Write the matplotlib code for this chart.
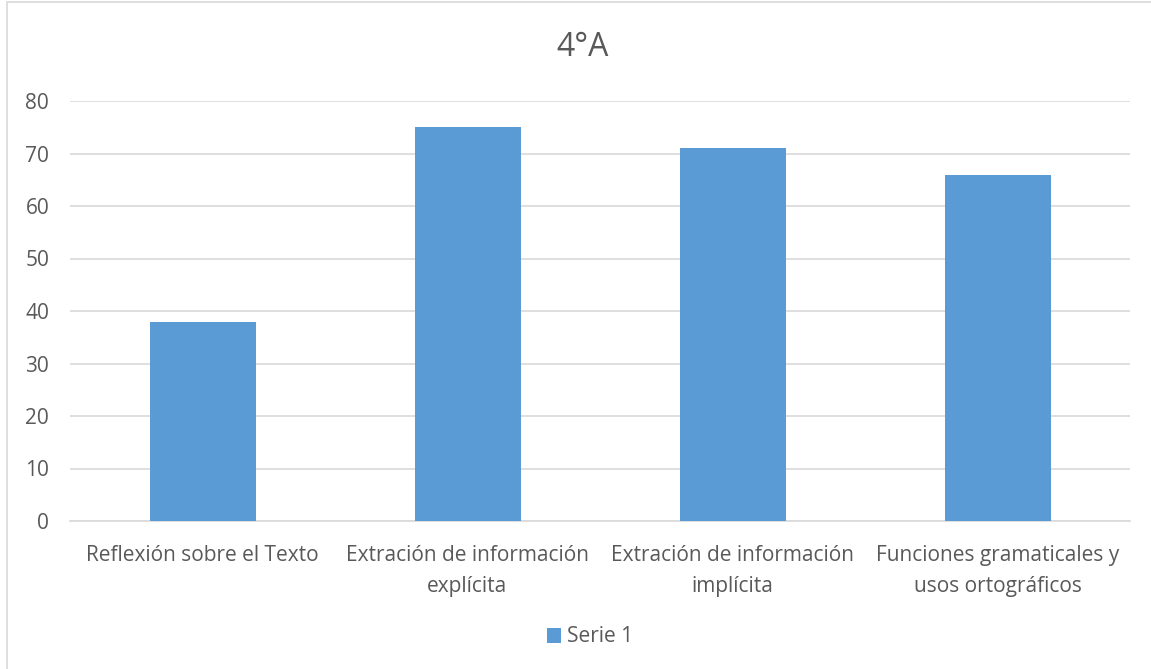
import numpy as np
import matplotlib
matplotlib.use("Agg")
import matplotlib.pyplot as plt
from matplotlib.patches import Rectangle

plt.rcParams['font.family'] = ['Open Sans', 'DejaVu Sans']

categories = ["Reflexión sobre el Texto",
              "Extración de información\nexplícita",
              "Extración de información\nimplícita",
              "Funciones gramaticales y\nusos ortográficos"]
serie1 = [38, 75, 71, 66]
yticks = [0, 10, 20, 30, 40, 50, 60, 70, 80]

text_col = '#595959'
grid_col = '#D9D9D9'
bar_col = '#5B9BD5'

fig = plt.figure(figsize=(11.51, 6.69), dpi=100)
ax = fig.add_axes([70/1151, 1-521/669, 1060/1151, 420/669])

x = np.arange(len(categories))
ax.bar(x, serie1, width=0.4, color=bar_col, label='Serie 1', zorder=3)

ax.set_xlim(-0.5, len(categories) - 0.5)
ax.set_ylim(0, 80)
ax.set_yticks(yticks)
ax.set_xticks(x)
ax.set_xticklabels(categories, fontsize=15, color=text_col, linespacing=1.65)
ax.tick_params(axis='y', labelsize=15, labelcolor=text_col, length=0, pad=15)
ax.tick_params(axis='x', length=0, pad=17)
ax.grid(axis='y', color=grid_col, linewidth=1.2, zorder=0)
for s in ['top', 'right', 'left']:
    ax.spines[s].set_visible(False)
ax.spines['bottom'].set_color(grid_col)
ax.spines['bottom'].set_linewidth(1.2)

fig.text(583/1151, 1-47/669, "4°A", ha='center', va='center', fontsize=23, color=text_col)

fig.legend(loc='center', bbox_to_anchor=(590/1151, 1-637/669), frameon=False,
           fontsize=15, labelcolor=text_col, handlelength=0.7, handleheight=0.7,
           handletextpad=0.3)

# chart border
fig.patches.append(Rectangle((7/1151, -0.01), 1.1, 1 - 2/669 + 0.01, transform=fig.transFigure,
                             fill=False, edgecolor=grid_col, linewidth=1.2))

fig.savefig('out.png', dpi=100)
